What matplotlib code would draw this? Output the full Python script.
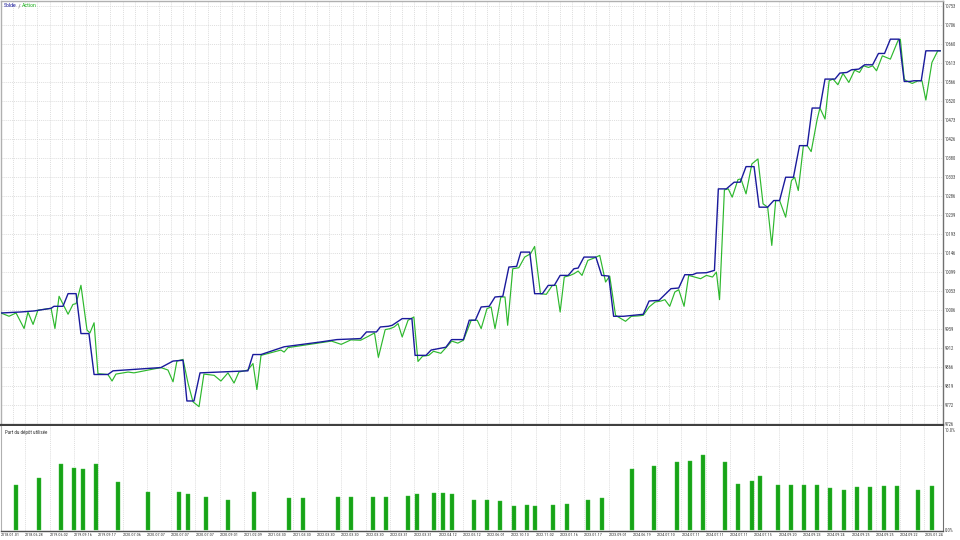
import matplotlib
matplotlib.use("Agg")
import matplotlib.pyplot as plt
from matplotlib import font_manager as fm
import numpy as np

# ---------------- data ----------------
# balance curve (x in deal-position units, y in account currency)
bal_x = [0, 8.2, 13.6, 20.6, 21.8, 25.5, 27.6, 30.9, 32.9, 36.2, 38.3, 44.0, 46.1, 65.8,
         70.8, 74.9, 76.5, 79.4, 81.9, 101.6, 103.7, 107.0, 116.5, 131.7,
         138.2, 148.0, 150.4, 154.5, 156.1, 159.4, 161.0, 165.1, 169.1, 170.4, 174.9, 177.0,
         183.1, 185.4, 190.3, 192.7, 195.2, 197.6, 200.9, 203.3, 206.5, 209.0, 212.2, 213.9,
         217.6, 219.6, 222.8, 225.2, 227.7, 230.1, 233.4, 235.8, 237.5, 239.9, 244.8, 247.2,
         250.1, 252.1, 256.2, 260.2, 264.3, 266.7, 270.8, 275.7, 278.9, 281.4, 284.6, 286.3,
         290.3, 293.6, 295.2, 298.5, 301.7, 304.2, 306.6, 309.9, 312.0, 315.5, 318.0, 320.4,
         322.9, 326.1, 328.6, 331.8, 333.8, 337.0, 339.1, 343.2, 345.2, 348.1, 350.0, 353.0,
         355.4, 358.7, 361.1, 363.6, 366.0, 369.6, 371.7, 374.1, 375.7, 378.7, 380.6, 386.5]
bal_y = [9999, 10001.5, 10004, 10010.5, 10015.4, 10015.4, 10046.5, 10046.5, 9948.5, 9948.5,
         9848, 9848, 9857, 9865,
         9881, 9883, 9783, 9783, 9852, 9857, 9897, 9897, 9916, 9928,
         9933.7, 9936.2, 9952.5, 9952.5, 9964.7, 9966.4, 9968.8, 9985.2, 9985.2, 9895, 9895, 9908,
         9915, 9933.7, 9933.7, 9981.3, 9981.3, 10013.8, 10015.4, 10038.3, 10039.9, 10111.8,
         10113.4, 10148.5,
         10148.5, 10046.4, 10046.4, 10066.8, 10066.8, 10091.3, 10091.3, 10107.7, 10109.3,
         10136.3, 10136.3, 10091.3,
         10089.7, 9990.9, 9990.9, 9993.3, 9995.8, 10028.4, 10030.1, 10058.7, 10060.3, 10093.0,
         10093.0, 10097.1,
         10097.9, 10103.6, 10303.7, 10303.7, 10320.1, 10320.1, 10358.4, 10358.4, 10258.8,
         10258.8, 10275.1, 10275.1,
         10332.3, 10332.3, 10409.9, 10409.9, 10502.2, 10502.2, 10573.3, 10573.3, 10588.0,
         10589.6, 10596.1, 10597.8,
         10608.4, 10608.4, 10636.2, 10636.2, 10671.3, 10671.3, 10567.5, 10567.5, 10569.2,
         10569.2, 10642.7, 10642.7]

# equity curve
eq_x = [0, 3.3, 6.2, 9.5, 11.1, 13.2, 15.2, 20.6, 22.2, 23.9, 27.6, 29.6, 30.9, 32.9, 35.4,
        36.6, 38.3, 39.9, 44.0, 45.7, 47.3, 52.3, 54.7, 65.8, 68.7, 70.8, 72.4, 74.9, 77.0,
        79.0, 81.5, 83.5, 87.7, 90.5, 93.4, 95.9, 97.9, 101.6, 103.7, 105.3, 107.0, 115.2,
        116.5, 118.1, 131.7, 136.0, 140.0, 144.0,
        148.0, 151.2, 153.7, 155.3, 158.1, 160.2, 161.8, 163.4, 165.1, 167.5, 169.9, 171.6,
        173.5, 176.0, 178.0, 181.0, 183.0, 185.5, 188.0, 190.3, 193.5, 196.0, 197.6, 200.0,
        201.7, 203.3, 205.7, 207.4, 208.5, 210.6, 213.1, 215.5, 217.9, 219.6, 222.0, 224.4,
        226.9, 228.5, 230.1, 231.8, 234.2, 235.8, 237.5, 239.1, 241.5, 244.0, 246.4, 248.8,
        250.5, 252.9, 257.0, 259.4, 261.9, 264.3, 266.7, 269.2, 271.6, 273.2, 275.2, 277.3,
        278.9, 281.1, 283.0, 285.5, 287.9, 290.3, 292.8, 294.4, 295.7, 297.7, 299.3, 300.9,
        303.3, 304.5, 306.6, 309.0, 311.5, 313.6, 315.5, 317.2, 318.8, 320.4, 322.9, 325.3,
        326.6, 328.1, 330.2, 331.8, 333.4, 335.9, 337.0, 339.1, 340.8, 342.4, 344.4, 346.5,
        348.9, 351.3, 353.3, 354.9, 357.0, 358.7, 360.3, 362.7, 366.0, 369.2, 370.1, 371.7,
        372.5, 375.0, 377.4, 379.0, 380.6, 383.1, 385.5, 386.5]
eq_y = [9999, 9991, 9999, 9961, 10001, 9971, 10006, 10010.5, 9961, 10040, 9996, 10020, 10022,
        10067, 9957, 9950, 9975, 9850, 9848, 9832, 9849, 9854, 9852, 9865, 9859, 9830, 9881,
        9885, 9826, 9781, 9769, 9849, 9846, 9832, 9852, 9827, 9854, 9859, 9875, 9811, 9895,
        9908, 9903, 9914, 9926, 9930, 9922, 9933,
        9932.1, 9941.9, 9950.0, 9890, 9958.2, 9960.7, 9964.7, 9972.9, 9940.2, 9981.1, 9989.2,
        9880, 9893, 9895, 9905, 9900, 9913, 9930, 9925, 9932.1, 9981.1, 9981.1, 9960.7,
        10009.7, 10013.8, 9960.7, 10038.3, 10038.3, 9968.8, 10107.7, 10110.1, 10136.3, 10144.4,
        10162.4, 10046.4, 10044.8, 10066.8, 10066.8, 10001.5, 10087.3, 10091.3, 10095.4,
        10102.0, 10091.3, 10128.1, 10133.8, 10140.4, 10075.0, 10089.7, 9993.3, 9978.6, 9990.9,
        9991.7, 9993.3, 10013.8, 10026.0, 10028.4, 10031.7, 10015.4, 10050.5, 10056.2,
        10015.4, 10091.3, 10087.3, 10083.2, 10091.3, 10087.3, 10099.5, 10031.7, 10301.3,
        10303.7, 10283.3, 10326.6, 10328.2, 10291.5, 10365.0, 10377.2, 10267.0, 10258.8,
        10164.9, 10275.1, 10275.1, 10234.3, 10324.1, 10332.3, 10299.6, 10409.9, 10409.9,
        10395.2, 10475.2, 10502.2, 10475.2, 10569.2, 10573.3, 10559.4, 10587.2, 10565.1,
        10595.3, 10589.6, 10605.9, 10601.9, 10605.9, 10593.7, 10630.4, 10622.3, 10668.8,
        10671.3, 10573.3, 10569.2, 10562.6, 10569.2, 10569.2, 10521.8, 10614.1, 10642.7,
        10642.7]

# deposit load bars (%)
bar_x = [6.2, 15.6, 24.7, 30.0, 33.7, 39.0, 48.1, 60.5, 73.3, 77.0, 84.4, 93.4, 104.1, 118.5,
         124.3, 138.7, 144.0, 153.1, 158.4, 167.5, 171.2, 178.2, 181.9, 185.6, 194.7, 200.0,
         205.3, 211.1, 216.5, 219.8, 227.2, 232.9, 241.6, 247.3, 259.7, 268.7, 278.2, 283.5,
         288.9, 298.0, 303.3, 309.1, 312.3, 319.8, 325.1, 330.5, 335.8, 341.2, 346.9, 352.3,
         357.6, 363.4, 368.7, 377.4, 383.1]
bar_v = [4.5, 5.2, 6.6, 6.2, 6.1, 6.6, 4.8, 3.8, 3.8, 3.6, 3.3, 3.0, 3.8, 3.2,
         3.2, 3.3, 3.3, 3.3, 3.3, 3.4, 3.6, 3.7, 3.7, 3.6, 3.0, 3.0,
         2.9, 2.4, 2.5, 2.4, 2.5, 2.6, 3.0, 3.2, 6.1, 6.4, 6.8, 6.9,
         7.5, 6.8, 4.6, 4.9, 5.4, 4.5, 4.5, 4.5, 4.5, 4.2, 4.0, 4.3,
         4.3, 4.4, 4.4, 4.0, 4.4]

y_ticks = [9726, 9772, 9819, 9866, 9912, 9959, 10006, 10053, 10099, 10146, 10193, 10239,
           10286, 10333, 10380, 10426, 10473, 10520, 10566, 10613, 10660, 10706, 10753]
date_labels = ["2018.01.01", "2018.06.28", "2019.06.02", "2019.09.16", "2019.09.17",
               "2020.07.06", "2020.07.07", "2020.07.07", "2020.07.07", "2020.09.01",
               "2021.02.09", "2021.03.30", "2021.03.30", "2022.03.30", "2022.03.30",
               "2022.03.30", "2022.03.31", "2022.03.31", "2022.04.12", "2022.05.12",
               "2022.06.01", "2022.10.13", "2022.11.02", "2023.01.16", "2023.01.17",
               "2023.09.01", "2024.06.19", "2024.07.10", "2024.07.11", "2024.07.11",
               "2024.07.11", "2024.07.15", "2024.09.20", "2024.09.23", "2024.09.24",
               "2024.09.25", "2024.09.25", "2024.09.22", "2025.01.24"]

# ---------------- fonts ----------------
available = {f.name for f in fm.fontManager.ttflist}
narrow = next((n for n in ["Liberation Sans Narrow", "DejaVu Sans Condensed",
                           "Roboto Condensed", "Open Sans Condensed"] if n in available), None)
if narrow is not None:
    small_font = narrow
    fs_y, fs_x = 3.3, 3.0
else:
    small_font = "Liberation Sans"
    fs_y, fs_x = 2.9, 2.6
plt.rcParams["font.family"] = [small_font, "DejaVu Sans"]

# ---------------- layout ----------------
W, H = 960, 540
fig = plt.figure(figsize=(W / 100, H / 100), dpi=100)
fig.patch.set_facecolor("white")


def rect(x0, y0, x1, y1):
    return [x0 / W, 1 - y1 / H, (x1 - x0) / W, (y1 - y0) / H]


ax = fig.add_axes(rect(1, 1, 943, 425))
ax2 = fig.add_axes(rect(1, 426, 943, 531))

XMAX = 942 / 2.43
grid_kw = dict(color="#d2d2d2", linestyle=(0, (1.5, 1.5)), linewidth=0.5)

# main chart
ax.set_xlim(0, XMAX)
ax.set_ylim(9724, 10765)
ax.set_xticks(np.arange(0, XMAX, 5))
ax.set_xticklabels([])
ax.set_yticks(y_ticks)
ax.set_yticklabels([str(v) for v in y_ticks], fontsize=fs_y, color="#404040")
ax.yaxis.tick_right()
ax.tick_params(axis="y", length=0, pad=1.5)
ax.tick_params(axis="x", length=0)
ax.grid(True, **grid_kw)
ax.set_axisbelow(True)
ax.plot(eq_x, eq_y, color="#2db82d", linewidth=0.85, zorder=3)
ax.plot(bal_x, bal_y, color="#1a1a9c", linewidth=1.0, zorder=4)
for s in ("left", "top"):
    ax.spines[s].set_color("#b0b0b0")
    ax.spines[s].set_linewidth(1.0)
ax.spines["right"].set_color("#707070")
ax.spines["right"].set_linewidth(1.0)
ax.spines["bottom"].set_color("#404040")
ax.spines["bottom"].set_linewidth(1.6)

# deposit load panel
ax2.set_xlim(0, XMAX)
ax2.set_ylim(-0.1, 10.4)
ax2.bar(bar_x, bar_v, width=1.6, color="#17a317", edgecolor="#3cc23c", linewidth=0.3,
        zorder=3)
ax2.set_xticks(np.arange(0, 381, 10))
ax2.set_xticklabels(date_labels, fontsize=fs_x, color="#303030", ha="left")
ax2.tick_params(axis="x", length=0, pad=1.5)
ax2.set_yticks([0, 10])
ax2.set_yticklabels(["0.0%", "10.0%"], fontsize=fs_y, color="#404040")
ax2.yaxis.tick_right()
ax2.tick_params(axis="y", length=0, pad=1.5)
ax2.grid(True, axis="x", **grid_kw)
ax2.set_axisbelow(True)
ax2.spines["left"].set_color("#b0b0b0")
ax2.spines["top"].set_visible(False)
ax2.spines["right"].set_color("#707070")
ax2.spines["bottom"].set_color("#505050")
ax2.spines["bottom"].set_linewidth(1.0)
ax2.text(0.004, 0.96, "Part du dépôt utilisée", transform=ax2.transAxes, fontsize=3.6,
         color="#303030", ha="left", va="top")

# title pieces laid out one after another
fig.canvas.draw()
renderer = fig.canvas.get_renderer()
x_px, y_px = 4, H - 3
for piece, col in [("Solde", "#1a1a9c"), (" / ", "#505050"), ("Action", "#2db82d")]:
    t = fig.text(x_px / W, y_px / H, piece, fontsize=4.2, color=col, ha="left", va="top")
    bb = t.get_window_extent(renderer)
    x_px += bb.width

fig.savefig("out.png", dpi=100, facecolor="white")
